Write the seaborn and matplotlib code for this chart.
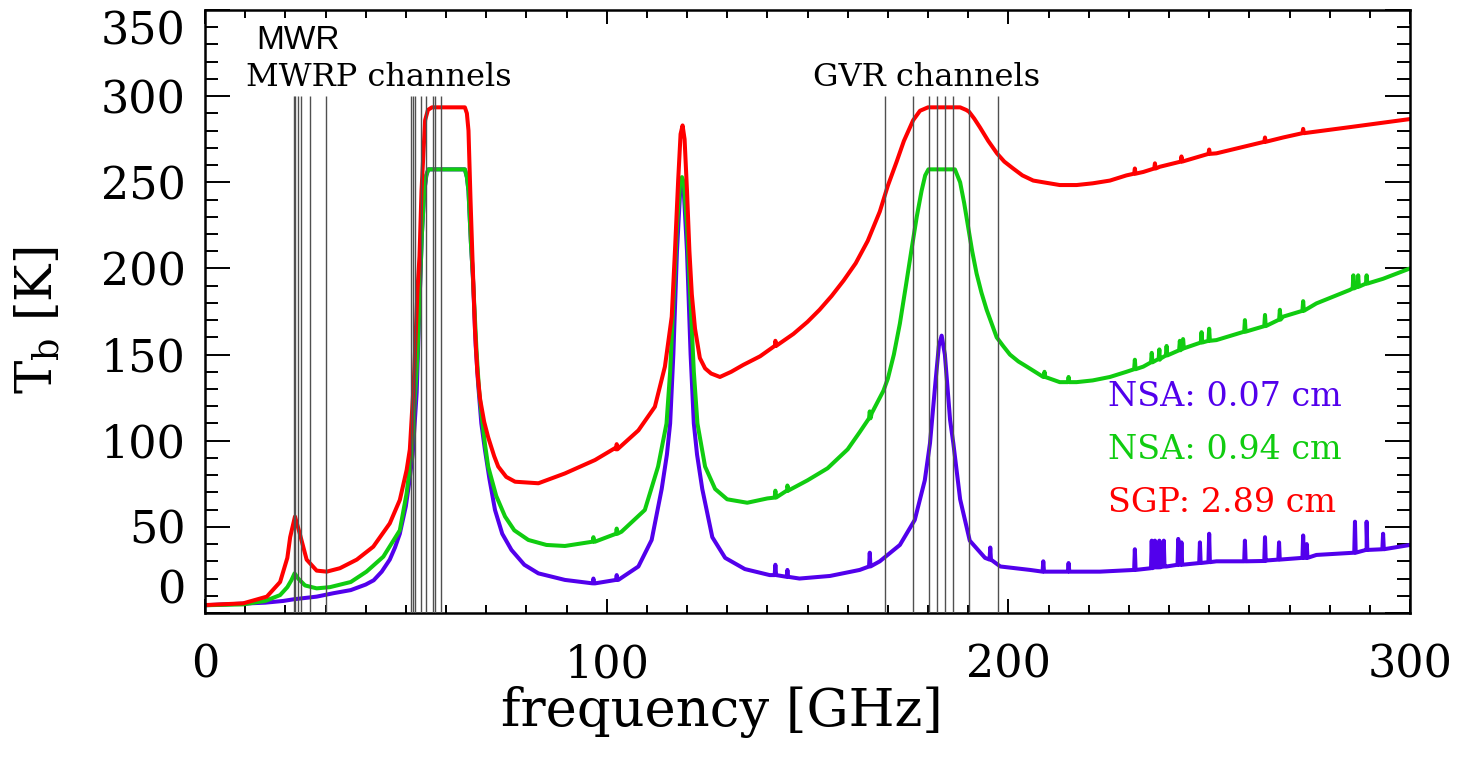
import numpy as np
import pandas as pd
import matplotlib
matplotlib.use("Agg")
import matplotlib.pyplot as plt
import seaborn as sns
from matplotlib.ticker import MultipleLocator, FixedLocator

# ---------------- data ----------------
# NSA: 0.07 cm (purple)
nsa007_freq = [0, 5, 10, 15, 19.5, 22.2, 24, 27.8, 32, 36.3, 40, 42, 44, 46, 47.3, 48.5, 50, 50.8, 51.7,
               52.7, 53.5, 54, 54.6, 55.1, 55.6, 64.7, 65.2, 65.6, 66.2, 66.7, 67.4, 68, 68.8, 69.7,
               70.8, 72.2, 74, 76.3, 79.5, 83, 89.6, 97.1, 102.9,
               107.9, 111.2, 113.7, 115, 115.8, 116.6, 117.5, 118.3, 118.75, 119.2, 120, 120.9, 121.7,
               122.5, 123.8, 126.3, 129.5, 134.4, 140.6, 148, 155.6, 163, 168, 173, 176.7, 179.2, 180.5,
               181.7, 182.7, 183.4, 184.2, 185.5, 186.3, 188, 190.4, 194.2, 198, 205.4, 212.8, 222.8,
               231, 239.4, 251.8, 264.3, 276.7, 289.2, 300]
nsa007_tb = [4.5, 5, 5.5, 6, 7, 8, 8.5, 9.5, 11.5, 13.3, 16.5, 19, 24, 31, 38, 46, 62, 75, 92,
             128, 187, 220, 245, 254, 257.5, 257.5, 253, 245, 215, 195, 155, 133, 110, 94.6,
             78, 59.8, 46, 36.6, 28, 23, 19.2, 17.2, 19.2,
             27, 42.4, 72, 92, 110, 150, 210, 245, 250, 245, 210, 150, 110,
             92, 72, 44, 32, 25.5, 22, 20, 21.5, 25, 30, 39.5, 54, 77, 98.6,
             130, 155, 161, 150, 112, 98.6, 66, 42, 32, 27, 25, 24, 24,
             25, 27, 30, 30.5, 33.7, 36.6, 39.5]
nsa007_spike_freq = [96.7, 102.5, 142, 145, 165.5, 195.5, 208.7, 215, 231.5, 235.7, 236.5, 237.6, 238.7,
                     242.3, 243.1, 247.7, 250, 258.9, 263.9, 267.4, 273.4, 274.3, 286.3, 289.2, 293.3]
nsa007_spike_base = [17.2, 19.2, 22, 21, 27, 31, 24, 24, 25, 26, 26.5, 26.5, 27,
                     28, 28, 29, 29.5, 30, 30.2, 31, 32, 32, 35, 36.6, 37]
nsa007_spike_peak = [20, 22, 28, 25, 35, 38, 30, 29, 37, 42, 42, 42, 42,
                     43, 41, 41, 46, 42, 44, 41, 45, 40, 53, 53, 46]

# NSA: 0.94 cm (green)
nsa094_freq = [0, 9.5, 15, 18.7, 20.5, 21.5, 22.3, 23.2, 24.9, 27.8, 31.1, 36.3, 40.2, 44.4, 48.5, 50.2,
               51.5, 52.9, 53.5, 54, 54.6, 55.1, 55.6, 64.7, 65.2, 65.6, 66.2, 66.7, 67.6, 68.2, 68.9,
               69.7, 70.5, 72.5, 74.7, 77, 80.5, 85, 89.6, 97.1, 103.7, 109.5, 112.8, 114.9, 115.8,
               116.6, 117.5, 118.3, 118.75, 119.2, 120, 120.9, 121.7, 122.6, 124.5, 127, 130, 135, 140,
               145, 150, 155, 160, 163, 166, 168.9, 170, 171.5, 173, 174.5, 175.9, 177.2, 178.4, 179.3,
               180.1, 186.7, 188, 189, 190, 191, 192.1, 193.3, 194.6, 196, 197.1, 198.7, 200.4, 202.5,
               204.6, 208.7, 212.8, 217, 221, 225.3, 229.4, 233.6, 237.7, 243.5, 251.8, 260.1,
               268.4, 276.7, 285, 293.3, 300]
nsa094_tb = [4.5, 5, 7, 10.4, 15, 19, 23, 20, 16, 14.3, 15, 18, 24, 32.7, 48, 69.5,
             94.6, 150, 187, 220, 245, 254, 257.5, 257.5, 253, 245, 215, 195, 152, 130, 114,
             98, 85, 68, 56, 48, 42.4, 39.5, 38.9, 41.4, 47.2, 59.8, 85, 110, 140,
             180, 225, 250, 253, 250, 225, 180, 140, 110, 85, 72, 66, 64, 66.5,
             71, 77, 84, 95, 105, 116, 129, 136, 150, 168, 190, 211, 230, 245, 254,
             257.5, 257.5, 250, 238, 224, 210, 197, 186, 176, 167, 160, 155, 150, 146,
             143, 137, 134, 134, 135, 137, 140, 143, 147, 153.6, 158.4, 164,
             172, 179.7, 187.5, 194, 200]
nsa094_spike_freq = [96.7, 102.5, 142, 145, 165.5, 209, 215, 231.5, 235.7, 237.6, 239.4, 242.7, 243.5,
                     248.1, 250, 258.9, 263.9, 267.6, 273.4, 285.9, 287.1, 289.2]
nsa094_spike_base = [41.4, 46, 67, 71, 113, 137, 134, 141.5, 145.5, 147.5, 149.5, 152.5, 153.6,
                     157, 158, 163.3, 166.5, 170.3, 175.4, 188.4, 189.4, 191.2]
nsa094_spike_peak = [44, 49, 71, 74, 117, 140, 137, 147, 151, 153, 155, 158, 159,
                     163, 165, 170, 173, 176, 181, 196, 196, 196]

# SGP: 2.89 cm (red)
sgp_freq = [0, 9.5, 15.4, 18.7, 20.5, 21.2, 22.4, 23.6, 25.3, 27.8, 30.3, 33.6, 37.8, 41.9, 46, 48.5,
            50.2, 51, 52, 52.9, 53.4, 53.9, 54.8, 55.5, 56.5, 64.7, 65.2, 65.6, 66.1, 66.6, 67.2, 67.8,
            68.5, 69.5, 70.5, 72, 73, 75, 77.2, 83, 89.6, 97.1, 102, 107.9, 112, 114.5, 116.2, 117,
            117.8, 118.4, 118.9, 119.4, 120, 120.6, 121.2, 122, 123.2, 124.5, 126, 128.2, 131, 134,
            138.2, 142, 146.5, 150, 153, 156, 159, 162, 165, 168, 170, 172.2, 174, 176.3, 178, 180,
            188, 189.5, 190.2, 191.5, 192.9, 195, 197.2, 199, 201.2, 203.5, 206.2, 208.7, 212.8,
            217, 221, 225.3, 229.4, 233.6, 237.7, 251.8, 268.4, 285, 300]
sgp_tb = [4.6, 5.6, 9.5, 18, 32, 44, 56, 46, 31, 24.6, 24, 26, 31, 38.5, 52, 65.6,
          83, 95, 135, 187.5, 207, 245, 286, 292, 293.5, 293.5, 290, 280, 240, 205, 165, 140,
          124, 111, 102, 91, 85, 79, 76.2, 75.3, 81, 88.8, 95.6, 106, 119.7, 143, 172, 210,
          251, 278, 283, 275, 245, 210, 185, 165, 148, 142, 139, 137, 140, 144,
          149, 155, 162, 169, 176, 184, 193, 203, 216, 233, 248, 262, 274, 286, 291.5, 293.5,
          293.5, 292, 291, 287, 282, 274, 266.7, 262, 258, 254, 251, 250, 248.4,
          248.4, 249.4, 251, 254, 256, 259, 266.8, 276, 282, 286.7]
sgp_spike_freq = [102.5, 142, 231.5, 236.5, 243.1, 250, 263.9, 273.4]
sgp_spike_base = [95, 155, 255, 258, 262, 266.5, 273.5, 278.5]
sgp_spike_peak = [98, 158, 258, 261, 265, 269, 276, 281]

mwrp_channels = [22.235, 22.5, 23.035, 23.835, 26.235, 30.0,
                 51.25, 51.76, 52.28, 53.85, 54.94, 56.66, 57.29, 58.8]
gvr_channels = [169.31, 176.31, 180.31, 182.31, 184.31, 186.31, 190.31, 197.31]

series_labels = ["NSA: 0.07 cm", "NSA: 0.94 cm", "SGP: 2.89 cm"]
series_colors = ["#5200EC", "#10CC10", "#FF0000"]


def merge_spikes(freq, tb, sf, sb, sp, w=0.18):
    f = list(freq) + [s - w for s in sf] + list(sf) + [s + w for s in sf]
    t = list(tb) + list(sb) + list(sp) + list(sb)
    df = pd.DataFrame({"freq": f, "tb": t}).sort_values("freq").reset_index(drop=True)
    return df


curves = [
    merge_spikes(nsa007_freq, nsa007_tb, nsa007_spike_freq, nsa007_spike_base, nsa007_spike_peak),
    merge_spikes(nsa094_freq, nsa094_tb, nsa094_spike_freq, nsa094_spike_base, nsa094_spike_peak),
    merge_spikes(sgp_freq, sgp_tb, sgp_spike_freq, sgp_spike_base, sgp_spike_peak),
]

# ---------------- plot ----------------
sns.set_style("ticks")
plt.rcParams["font.family"] = ["DejaVu Serif"]
plt.rcParams["mathtext.fontset"] = "dejavuserif"
for k in ["text.color", "axes.labelcolor", "xtick.color", "ytick.color", "axes.edgecolor"]:
    plt.rcParams[k] = "black"

fig = plt.figure(figsize=(14.58, 7.58), dpi=100)
ax = fig.add_axes([205 / 1458, 1 - 613 / 758, 1205 / 1458, 603 / 758])

for df, col in zip(curves, series_colors):
    sns.lineplot(data=df, x="freq", y="tb", ax=ax, color=col, lw=2.9,
                 estimator=None, sort=True, zorder=2)

ax.vlines(mwrp_channels, 0, 300, color="#505050", lw=1.0, zorder=3)
ax.vlines(gvr_channels, 0, 300, color="#505050", lw=1.0, zorder=3)

ax.set_xlim(0, 300)
ax.set_ylim(0, 350)
ax.xaxis.set_major_locator(FixedLocator([0, 100, 200, 300]))
ax.xaxis.set_minor_locator(MultipleLocator(10))
ax.yaxis.set_major_locator(FixedLocator([0, 50, 100, 150, 200, 250, 300, 350]))
ax.yaxis.set_minor_locator(MultipleLocator(10))

for s in ax.spines.values():
    s.set_linewidth(1.8)
    s.set_visible(True)
    s.set_color("black")

ax.tick_params(axis="both", which="both", direction="in", top=True, right=True,
               color="black", labelcolor="black", width=1.4)
ax.tick_params(axis="x", which="major", length=10, pad=22, labelsize=32)
ax.tick_params(axis="x", which="minor", length=5.5)
ax.tick_params(axis="y", which="major", length=18, pad=14, labelsize=32)
ax.tick_params(axis="y", which="minor", length=9.4)

ylabels = ax.get_yticklabels()
ylabels[0].set_va("bottom")
ylabels[-1].set_va("top")

ax.set_xlabel("frequency [GHz]", fontsize=38, color="black")
ax.set_ylabel(r"T$_{\rm b}$ [K]", fontsize=36, color="black")
ax.xaxis.set_label_coords(0.429, -0.164)
ax.xaxis.label.set_va("center")
ax.yaxis.set_label_coords(-0.138, 0.486)
ax.yaxis.label.set_va("center")

ax.text(23.2, 332.5, "MWR", family=["Liberation Sans", "DejaVu Sans"], fontsize=24,
        ha="center", va="center", color="black")
ax.text(10.2, 311, "MWRP channels", fontsize=23, ha="left", va="center", color="black")
ax.text(179.6, 311, "GVR channels", fontsize=23, ha="center", va="center", color="black")

legend_y = [125.4, 94.6, 63.8]
for lab, col, yy in zip(series_labels, series_colors, legend_y):
    ax.text(224.8, yy, lab, fontsize=24, ha="left", va="center", color=col)

fig.savefig("out.png", dpi=100)
